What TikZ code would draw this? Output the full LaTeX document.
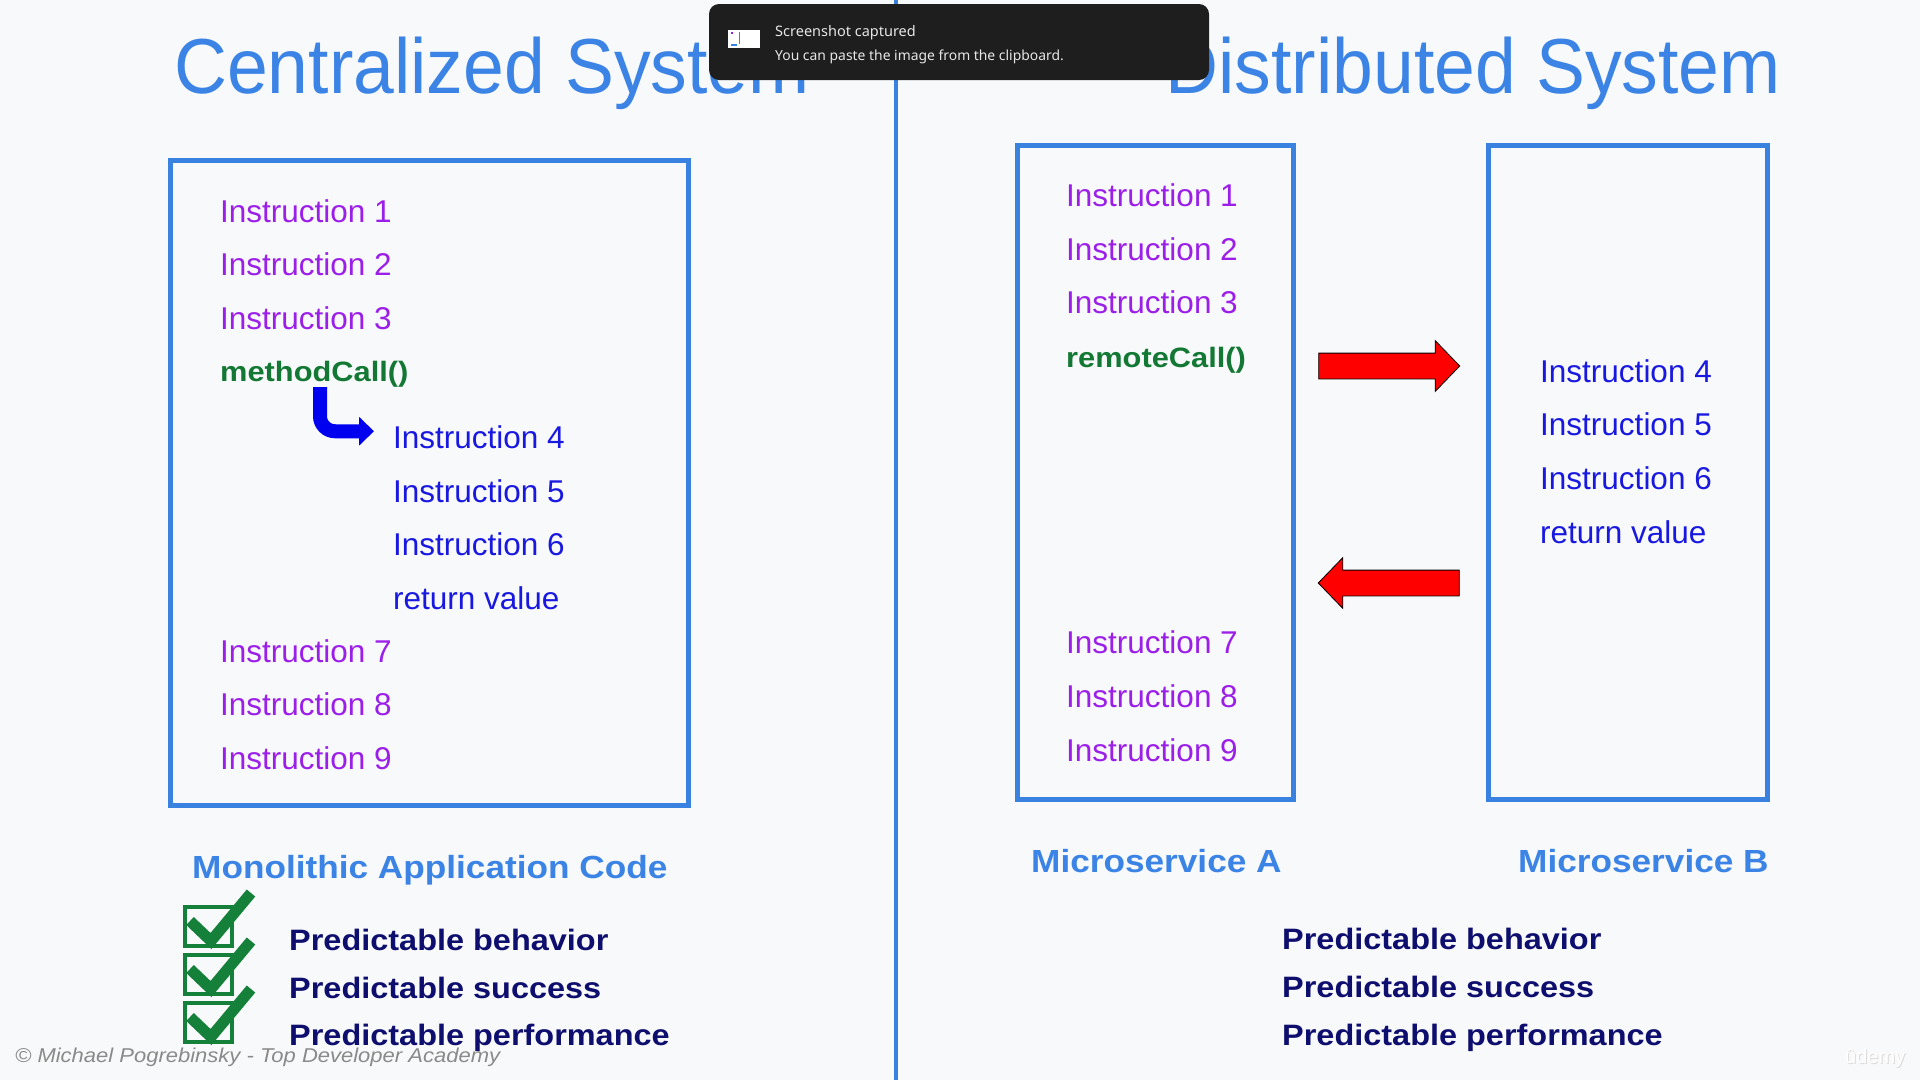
\documentclass[tikz,border=0pt]{standalone}
\usepackage{fontspec}
\setmainfont{Liberation Sans}
\newfontfamily\titlefont[FakeStretch=0.94]{Liberation Sans}
\newfontfamily\widefont[FakeStretch=1.1]{Liberation Sans}
\newfontfamily\toastfont{Noto Sans}
\usetikzlibrary{arrows.meta,shapes.arrows}

\definecolor{pagebg}{HTML}{F8F9FA}
\definecolor{titleblue}{HTML}{3B84E6}
\definecolor{panelblue}{HTML}{3A82E0}
\definecolor{instrpurple}{HTML}{9B1FE8}
\definecolor{instrblue}{HTML}{1818E0}
\definecolor{callgreen}{HTML}{127833}
\definecolor{navytext}{HTML}{0E0E6E}
\definecolor{checkgreen}{HTML}{14803A}
\definecolor{bendblue}{HTML}{0000F0}
\definecolor{toastbg}{HTML}{1E1E1E}
\definecolor{toasttext}{HTML}{E6E6E6}
\definecolor{creditgrey}{HTML}{8A8A8A}

\begin{document}
\begin{tikzpicture}[x=1pt,y=-1pt,
  txt/.style={inner sep=0pt, anchor=base west},
  instrP/.style={txt, text=instrpurple, font=\fontsize{31.5}{36}\selectfont},
  instrB/.style={txt, text=instrblue, font=\fontsize{31.5}{36}\selectfont},
  callst/.style={txt, text=callgreen, font=\widefont\bfseries\fontsize{28}{32}\selectfont},
  svclabel/.style={txt, text=titleblue, font=\widefont\bfseries\fontsize{32}{38}\selectfont},
  pred/.style={txt, text=navytext, font=\widefont\bfseries\fontsize{29.5}{34}\selectfont},
  titlest/.style={inner sep=0pt, text=titleblue, font=\titlefont\fontsize{78}{90}\selectfont},
  panel/.style={draw=panelblue, line width=5pt, inner sep=0pt},
  redarrow/.style={single arrow, draw=black, line width=0.8pt, fill=red,
    inner xsep=0pt, inner ysep=12.5pt, minimum height=141pt,
    single arrow head extend=12.5pt, single arrow tip angle=92},
  bendarrow/.style={draw=bendblue, line width=14pt, rounded corners=15pt,
    -{Triangle[length=15pt,width=28pt]}},
  checkbox/.style={draw=checkgreen, line width=4pt},
  checkmark/.style={draw=checkgreen, line width=11pt, line join=miter},
]
% page
\fill[pagebg] (0,0) rectangle (1920,1080);
\useasboundingbox (0,0) rectangle (1920,1080);

% divider between the two halves
\draw[panelblue, line width=4pt] (896,0) -- (896,1080);

% titles
\node[titlest, anchor=base west] (tleft) at (174,93) {Centralized System};
\node[titlest, anchor=base east] (tright) at (1781,93) {Distributed System};

% ---------- centralized side ----------
\node[panel, minimum width=518pt, minimum height=645pt] (mono) at (429,482.5) {};

\node[instrP] (L1) at (220,222) {Instruction 1};
\node[instrP] (L2) at (220,275.5) {Instruction 2};
\node[instrP] (L3) at (220,329) {Instruction 3};
\node[callst] (mc) at (220,381) {methodCall()};
\node[instrB] (L4) at (393,448.5) {Instruction 4};
\node[instrB] (L5) at (393,502) {Instruction 5};
\node[instrB] (L6) at (393,555.5) {Instruction 6};
\node[instrB] (Lr) at (393,609) {return value};
\node[instrP] (L7) at (220,662) {Instruction 7};
\node[instrP] (L8) at (220,715.5) {Instruction 8};
\node[instrP] (L9) at (220,769) {Instruction 9};

\draw[bendarrow] ([xshift=100pt]mc.south west) |- ([xshift=-19pt,yshift=6pt]L4.west);

\node[svclabel] (monolabel) at (192,878) {Monolithic Application Code};

\foreach \k in {0,1,2} {
  \draw[checkbox] (185,907+48*\k) rectangle (232,946+48*\k);
  \draw[checkmark] (190,921+48*\k) -- (211,941+48*\k) -- (251,893+48*\k);
}
\node[pred] (pl1) at (289,950) {Predictable behavior};
\node[pred] (pl2) at (289,998) {Predictable success};
\node[pred] (pl3) at (289,1045) {Predictable performance};

% ---------- distributed side ----------
\node[panel, minimum width=276pt, minimum height=654pt] (svcA) at (1155,472) {};
\node[panel, minimum width=279pt, minimum height=654pt] (svcB) at (1627.5,472) {};

\node[instrP] (A1) at (1066,206) {Instruction 1};
\node[instrP] (A2) at (1066,260) {Instruction 2};
\node[instrP] (A3) at (1066,313.5) {Instruction 3};
\node[callst] (rc) at (1066,367) {remoteCall()};
\node[instrP] (A7) at (1066,653) {Instruction 7};
\node[instrP] (A8) at (1066,707) {Instruction 8};
\node[instrP] (A9) at (1066,761) {Instruction 9};

\node[instrB] (B4) at (1540,382) {Instruction 4};
\node[instrB] (B5) at (1540,435.5) {Instruction 5};
\node[instrB] (B6) at (1540,489) {Instruction 6};
\node[instrB] (Br) at (1540,543.5) {return value};

\node[redarrow] (toB) at (1383,366) {};
\node[redarrow, shape border rotate=180] (toA) at (1395,583) {};

\node[svclabel] (labA) at (1031,872) {Microservice A};
\node[svclabel] (labB) at (1518,872) {Microservice B};

\node[pred] (pr1) at (1282,949) {Predictable behavior};
\node[pred] (pr2) at (1282,997) {Predictable success};
\node[pred] (pr3) at (1282,1045) {Predictable performance};

% ---------- screenshot notification ----------
\fill[toastbg, rounded corners=10pt] (709,4) rectangle (1209,80);
\fill[white] (728,30) rectangle (760,48);
\draw[panelblue, line width=0.8pt] (739,32) -- (739,44);
\fill[instrpurple] (731,32) rectangle (733,34);
\fill[panelblue] (731,44) rectangle (737,46);
\node[txt, text=toasttext, font=\toastfont\fontsize{14.5}{17}\selectfont] (toast1) at (775,36) {Screenshot captured};
\node[txt, text=toasttext, font=\toastfont\fontsize{13.9}{16}\selectfont] (toast2) at (775,60) {You can paste the image from the clipboard.};

% ---------- footer ----------
\node[txt, text=creditgrey, font=\widefont\itshape\fontsize{20}{22}\selectfont] (credit) at (15,1062) {\textcopyright{} Michael Pogrebinsky - Top Developer Academy};
\node[txt, text=black!14, font=\fontsize{20}{22}\selectfont] (logoshadow) at (1846,1064) {\^{u}demy};
\node[txt, text=white, font=\fontsize{20}{22}\selectfont] (logo) at (1845,1063) {\^{u}demy};
\end{tikzpicture}
\end{document}
